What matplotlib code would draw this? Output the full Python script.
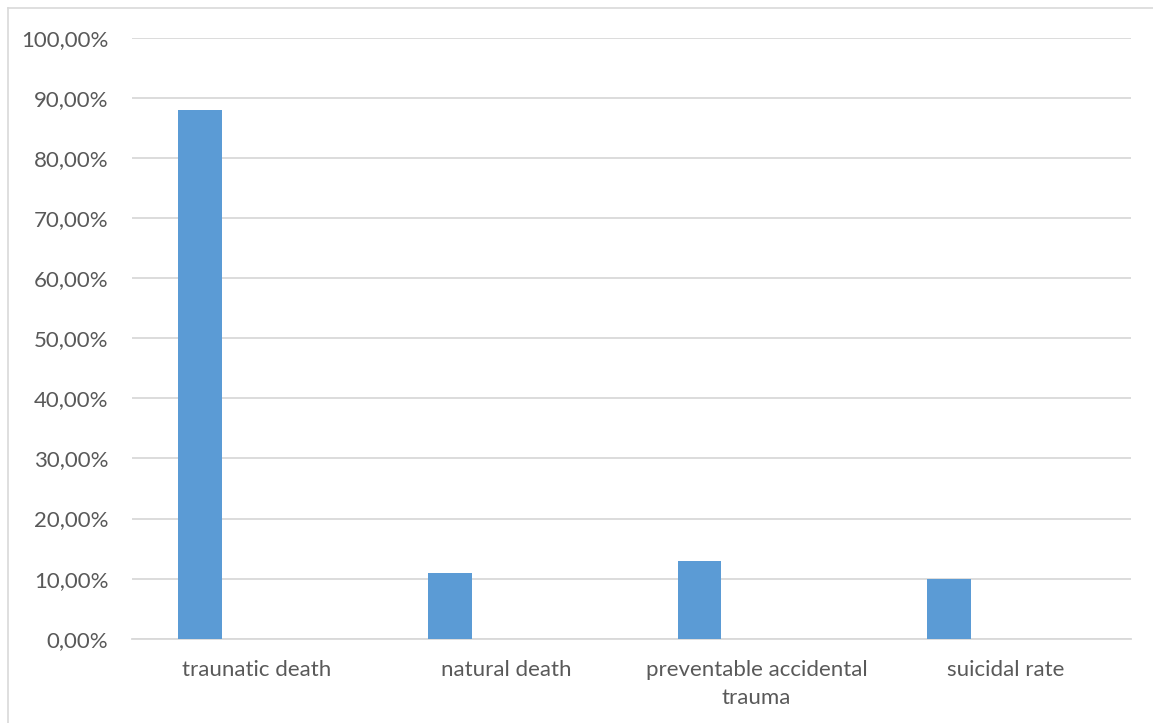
import matplotlib.pyplot as plt
from matplotlib.lines import Line2D
from matplotlib.ticker import FuncFormatter

categories = ["traunatic death", "natural death", "preventable accidental\ntrauma", "suicidal rate"]
values = [88.0, 11.0, 12.9, 10.0]
yticks = [0, 10, 20, 30, 40, 50, 60, 70, 80, 90, 100]

plt.rcParams['font.family'] = ['Lato', 'DejaVu Sans']

W, H = 1153, 723
fig = plt.figure(figsize=(W / 100, H / 100), dpi=100)
ax = fig.add_axes([132 / W, 1 - 638.7 / H, (1131 - 132) / W, (638.7 - 38) / H])

# bars sit in the left part of each category slot
xs = [i - 0.228 for i in range(len(categories))]
ax.bar(xs, values, width=0.175, color='#5b9bd5', zorder=3)

ax.set_xlim(-0.5, len(categories) - 0.5)
ax.set_ylim(0, 100)
ax.set_yticks(yticks)
ax.yaxis.set_major_formatter(FuncFormatter(lambda v, p: f"{v:.2f}%".replace('.', ',')))
ax.set_xticks(range(len(categories)))
ax.set_xticklabels(categories, linespacing=1.55)
ax.tick_params(axis='both', length=0, labelsize=16, colors='#595959')
ax.tick_params(axis='y', pad=17)
ax.tick_params(axis='x', pad=15)
ax.grid(axis='y', color='#d9d9d9', linewidth=1.3, zorder=0)
for s in ['top', 'right', 'left']:
    ax.spines[s].set_visible(False)
ax.spines['bottom'].set_color('#d9d9d9')
ax.spines['bottom'].set_linewidth(1.3)

# chart frame, only its left and top edges fall inside the image
fig.add_artist(Line2D([7.5 / W, 7.5 / W], [0, 1 - 8 / H], color='#d9d9d9', lw=1.2))
fig.add_artist(Line2D([7.5 / W, 1], [1 - 8 / H, 1 - 8 / H], color='#d9d9d9', lw=1.2))

fig.savefig('out.png', dpi=100)
